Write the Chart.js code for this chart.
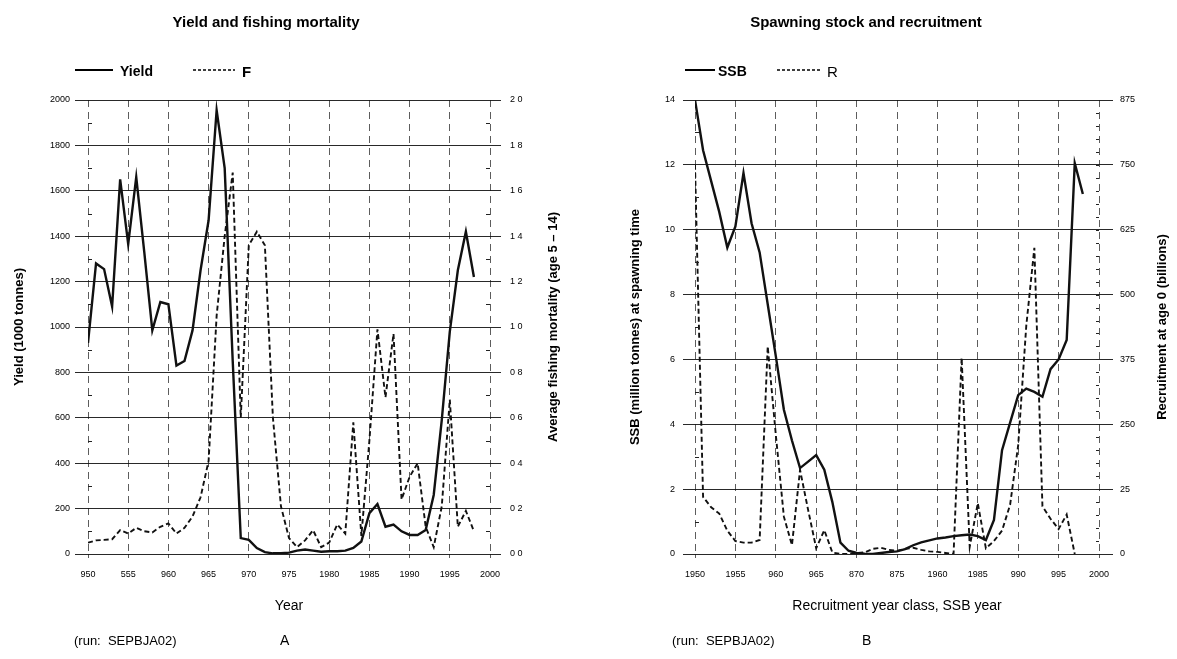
<!DOCTYPE html>
<html>
<head>
<meta charset="utf-8">
<script src="https://cdn.jsdelivr.net/npm/chart.js@4.4.0/dist/chart.umd.min.js"></script>
<style>
  body { margin: 0; background: #fff; width: 1177px; height: 659px; position: relative; overflow: hidden;
         font-family: "Liberation Sans", Arial, sans-serif; color: #000; }
  canvas { position: absolute; top: 0; }
  .t { position: absolute; white-space: nowrap; transform: translateY(-50%); line-height: 1; }
  .ttl { font-weight: bold; font-size: 15px; transform: translate(-50%, -50%); }
  .leg { font-weight: bold; font-size: 14px; }
  .run { font-size: 13px; }
  svg.k { position: absolute; overflow: visible; }
</style>
</head>
<body>
<canvas id="yieldChart" width="590" height="659" style="left:0"></canvas>
<canvas id="stockChart" width="587" height="659" style="left:590px"></canvas>

<div class="t ttl" style="left:266px;top:21px">Yield and fishing mortality</div>
<svg class="k" style="left:75px;top:70px" width="40" height="2"><line x1="0" y1="0" x2="38" y2="0" stroke="#000" stroke-width="2"/></svg>
<div class="t leg" style="left:120px;top:71px">Yield</div>
<svg class="k" style="left:193px;top:70px" width="44" height="2"><line x1="0" y1="0" x2="42" y2="0" stroke="#000" stroke-width="1.5" stroke-dasharray="3,2"/></svg>
<div class="t leg" style="left:242px;top:71px;font-size:15px">F</div>
<div class="t run" style="left:74px;top:640px">(run:&nbsp; SEPBJA02)</div>
<div class="t run" style="left:280px;top:640px;font-size:14px">A</div>

<div class="t ttl" style="left:866px;top:21px">Spawning stock and recruitment</div>
<svg class="k" style="left:685px;top:70px" width="32" height="2"><line x1="0" y1="0" x2="30" y2="0" stroke="#000" stroke-width="2"/></svg>
<div class="t leg" style="left:718px;top:71px">SSB</div>
<svg class="k" style="left:777px;top:70px" width="47" height="2"><line x1="0" y1="0" x2="45" y2="0" stroke="#000" stroke-width="1.5" stroke-dasharray="3,2"/></svg>
<div class="t leg" style="left:827px;top:71px;font-weight:normal;font-size:15px">R</div>
<div class="t run" style="left:672px;top:640px">(run:&nbsp; SEPBJA02)</div>
<div class="t run" style="left:862px;top:640px;font-size:14px">B</div>

<script>
// values
const years = [1950, 1951, 1952, 1953, 1954, 1955, 1956, 1957, 1958, 1959,
               1960, 1961, 1962, 1963, 1964, 1965, 1966, 1967, 1968, 1969,
               1970, 1971, 1972, 1973, 1974, 1975, 1976, 1977, 1978, 1979,
               1980, 1981, 1982, 1983, 1984, 1985, 1986, 1987, 1988, 1989,
               1990, 1991, 1992, 1993, 1994, 1995, 1996, 1997, 1998];

// yield, 1000 tonnes
const yieldKt = [930, 1280, 1255, 1090, 1650, 1365, 1660, 1330, 985, 1110,
                 1100, 830, 850, 985, 1250, 1470, 1955, 1700, 850, 70,
                 62, 26, 8, 3, 3, 6, 15, 20, 15, 10,
                 12, 12, 15, 27, 55, 180, 220, 120, 130, 100,
                 84, 84, 106, 260, 590, 980, 1250, 1420, 1220];

// average fishing mortality, age 5-14
const fishingF = [0.05, 0.06, 0.062, 0.065, 0.105, 0.09, 0.115, 0.10, 0.095, 0.12,
                  0.135, 0.09, 0.115, 0.165, 0.25, 0.41, 1.05, 1.40, 1.68, 0.60,
                  1.36, 1.42, 1.36, 0.60, 0.21, 0.07, 0.03, 0.06, 0.105, 0.03,
                  0.05, 0.13, 0.09, 0.58, 0.08, 0.50, 0.99, 0.69, 0.97, 0.24,
                  0.34, 0.40, 0.12, 0.03, 0.21, 0.68, 0.12, 0.19, 0.10];

// spawning stock biomass, million tonnes
const ssbMt = [14.0, 12.45, 11.5, 10.55, 9.45, 10.1, 11.75, 10.2, 9.3, 7.7,
               6.1, 4.45, 3.5, 2.65, 2.85, 3.05, 2.6, 1.6, 0.35, 0.1,
               0.03, 0.01, 0.0, 0.03, 0.06, 0.08, 0.15, 0.27, 0.36, 0.42,
               0.48, 0.51, 0.55, 0.58, 0.6, 0.55, 0.43, 1.05, 3.2, 4.05,
               4.9, 5.1, 5.0, 4.85, 5.7, 6.0, 6.6, 12.05, 11.1];

// recruitment at age 0, billions
const recruitsBn = [750, 110, 90, 78, 45, 25, 22, 22, 27, 400,
                    230, 72, 17, 162, 85, 11, 46, 3, 0, 0,
                    2, 3, 10, 12, 8, 6, 10, 12, 8, 5,
                    4, 2, 0, 378, 14, 98, 11, 25, 45, 95,
                    210, 440, 590, 92, 68, 48, 76, 0, null];

// tick labels as printed
const yearTicksA = ['950', '555', '960', '965', '970', '975', '1980', '1985', '1990', '1995', '2000'];
const yearTicksB = ['1950', '1955', '960', '965', '870', '875', '1960', '1985', '990', '995', '2000'];
const fTicks = ['0 0', '0 2', '0 4', '0 6', '0 8', '1 0', '1 2', '1 4', '1 6', '1 8', '2 0'];
const recruitTicks = ['0', '25', '250', '375', '500', '625', '750', '875'];

const FONT = '"Liberation Sans", Arial, sans-serif';
const tickFont = { family: FONT, size: 9 };

function points(ys) {
  return years.map((yr, i) => ({ x: yr, y: ys[i] }));
}

// small marks inside the frame between the gridlines
const minorTicks = {
  id: 'minorTicks',
  afterDatasetsDraw(chart, args, opts) {
    const ctx = chart.ctx;
    const area = chart.chartArea;
    ctx.save();
    ctx.strokeStyle = '#222';
    ctx.lineWidth = 1;
    (opts.marks || []).forEach(m => {
      const scale = chart.scales[m.axis];
      for (let v = m.from; v <= m.to; v += m.step) {
        const y = Math.round(scale.getPixelForValue(v)) + 0.5;
        const x = m.side === 'left' ? area.left : area.right - m.len;
        ctx.beginPath();
        ctx.moveTo(x, y);
        ctx.lineTo(x + m.len, y);
        ctx.stroke();
      }
    });
    ctx.restore();
  }
};

// right hand axis title, read bottom to top like the left one
const sideTitle = {
  id: 'sideTitle',
  afterDraw(chart, args, opts) {
    if (!opts.text) return;
    const ctx = chart.ctx, area = chart.chartArea;
    ctx.save();
    ctx.translate(chart.width - opts.offset, (area.top + area.bottom) / 2);
    ctx.rotate(-Math.PI / 2);
    ctx.font = 'bold 13px ' + FONT;
    ctx.textAlign = 'center';
    ctx.textBaseline = 'middle';
    ctx.fillStyle = '#000';
    ctx.fillText(opts.text, 0, 0);
    ctx.restore();
  }
};

function xAxis(labels) {
  return {
    type: 'linear',
    min: 1950, max: 2000,
    afterFit: s => { s.height = 105; },
    afterBuildTicks: s => { s.ticks = labels.map((_, i) => ({ value: 1950 + i * 5 })); },
    ticks: { font: tickFont, color: '#000', padding: 11, maxRotation: 0, autoSkip: false,
             callback: (v, i) => labels[i] },
    grid: { color: '#333', lineWidth: 0.8, tickLength: 4 },
    border: { display: false, dash: [7, 5] },
    title: { display: true, font: { family: FONT, size: 14 }, color: '#000', padding: { bottom: 44 } }
  };
}

function lineSet(label, data, axis, dashed) {
  return {
    label: label,
    data: data,
    yAxisID: axis,
    borderColor: '#111',
    borderWidth: dashed ? 1.9 : 2.4,
    borderDash: dashed ? [5, 3] : [],
    pointRadius: 0,
    tension: 0,
    spanGaps: false
  };
}

const xA = xAxis(yearTicksA);
xA.title.text = 'Year';

new Chart(document.getElementById('yieldChart'), {
  type: 'line',
  data: {
    datasets: [
      lineSet('Yield', points(yieldKt), 'y', false),
      lineSet('F', points(fishingF), 'y1', true)
    ]
  },
  options: {
    responsive: false,
    animation: false,
    layout: { padding: { top: 100, left: 0, right: 0, bottom: 0 } },
    plugins: {
      legend: { display: false },
      tooltip: { enabled: false },
      minorTicks: { marks: [
        { axis: 'y', from: 100, to: 1900, step: 200, side: 'left', len: 4 },
        { axis: 'y1', from: 0.1, to: 1.9, step: 0.2, side: 'right', len: 4 }
      ] },
      sideTitle: { text: 'Average fishing mortality (age 5 \u2013 14)', offset: 37 }
    },
    scales: {
      x: xA,
      y: {
        position: 'left',
        min: 0, max: 2000,
        afterFit: s => { s.width = 88; },
        ticks: { stepSize: 200, font: tickFont, color: '#000', padding: 5, callback: v => String(v) },
        grid: { color: '#111', lineWidth: 0.9, tickLength: 13 },
        border: { display: false },
        title: { display: true, text: 'Yield (1000 tonnes)', font: { family: FONT, size: 13, weight: 'bold' },
                 color: '#000', padding: { top: 12 } }
      },
      y1: {
        position: 'right',
        min: 0, max: 2,
        afterFit: s => { s.width = 100; },
        ticks: { stepSize: 0.2, font: tickFont, color: '#000', padding: 9,
                 callback: (v, i) => fTicks[i] },
        grid: { drawOnChartArea: false, color: '#111', lineWidth: 0.9, tickLength: 11 },
        border: { display: false }
      }
    }
  },
  plugins: [minorTicks, sideTitle]
});

const xB = xAxis(yearTicksB);
xB.title.text = 'Recruitment year class, SSB year';

new Chart(document.getElementById('stockChart'), {
  type: 'line',
  data: {
    datasets: [
      lineSet('SSB', points(ssbMt), 'y', false),
      lineSet('R', points(recruitsBn), 'y1', true)
    ]
  },
  options: {
    responsive: false,
    animation: false,
    layout: { padding: { top: 100, left: 0, right: 0, bottom: 0 } },
    plugins: {
      legend: { display: false },
      tooltip: { enabled: false },
      minorTicks: { marks: [
        { axis: 'y', from: 1, to: 13, step: 2, side: 'left', len: 4 },
        { axis: 'y1', from: 25, to: 850, step: 25, side: 'right', len: 3 }
      ] },
      sideTitle: { text: 'Recruitment at age 0 (billions)', offset: 15 }
    },
    scales: {
      x: xB,
      y: {
        position: 'left',
        min: 0, max: 14,
        afterFit: s => { s.width = 105; },
        ticks: { stepSize: 2, font: tickFont, color: '#000', padding: 8 },
        grid: { color: '#111', lineWidth: 0.9, tickLength: 12 },
        border: { display: false },
        title: { display: true, text: 'SSB (million tonnes) at spawning time',
                 font: { family: FONT, size: 13, weight: 'bold' }, color: '#000', padding: { top: 38 } }
      },
      y1: {
        position: 'right',
        min: 0, max: 875,
        afterFit: s => { s.width = 78; },
        ticks: { stepSize: 125, font: tickFont, color: '#000', padding: 7,
                 callback: (v, i) => recruitTicks[i] },
        grid: { drawOnChartArea: false, color: '#111', lineWidth: 0.9, tickLength: 14 },
        border: { display: false }
      }
    }
  },
  plugins: [minorTicks, sideTitle]
});
</script>
</body>
</html>
